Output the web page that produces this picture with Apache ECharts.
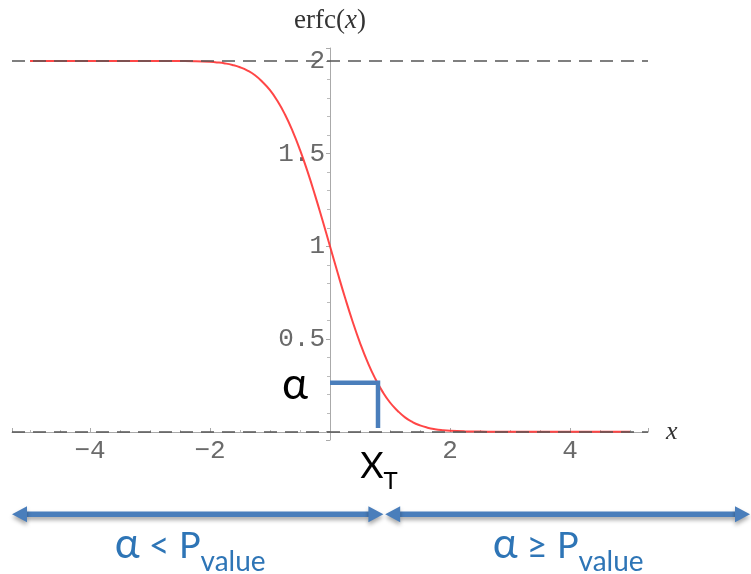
<!DOCTYPE html>
<html>
<head>
<meta charset="utf-8">
<script src="https://cdn.jsdelivr.net/npm/echarts@6/dist/echarts.min.js"></script>
<style>
  html, body { margin: 0; padding: 0; background: #fff; }
  #main { width: 751px; height: 574px; }
</style>
</head>
<body>
<div id="main"></div>
<script>
// erfc(x)
const xs = [-5, -4.75, -4.5, -4.25, -4, -3.75, -3.5, -3.25, -3, -2.75, -2.5, -2.25,
  -2, -1.875, -1.75, -1.625, -1.5, -1.375, -1.25, -1.125, -1, -0.875, -0.75, -0.625,
  -0.5, -0.375, -0.25, -0.125, 0, 0.125, 0.25, 0.375, 0.5, 0.625, 0.75, 0.875,
  1, 1.125, 1.25, 1.375, 1.5, 1.625, 1.75, 1.875, 2,
  2.25, 2.5, 2.75, 3, 3.25, 3.5, 3.75, 4, 4.25, 4.5, 4.75, 5]
const erfc = [2, 2, 2, 2, 2, 2, 2, 2, 2, 2, 1.9996, 1.9985,
  1.9953, 1.992, 1.9867, 1.9784, 1.9661, 1.9482, 1.9229, 1.8868, 1.8427, 1.784, 1.7112, 1.6231,
  1.5205, 1.4041, 1.2763, 1.1403, 1, 0.8597, 0.7237, 0.5959, 0.4795, 0.3769, 0.2888, 0.216,
  0.1573, 0.1132, 0.0771, 0.0518, 0.0339, 0.0216, 0.0133, 0.008, 0.0047,
  0.0015, 0.0004, 0, 0, 0, 0, 0, 0, 0, 0, 0, 0]
const asymptotes = [2, 0]

// alpha / X_T marker
const alphaBox = [[0, 0.264], [0.8, 0.264], [0.8, 0.02]]

// double arrows under the plot
const arrowFrom = [-5.3, 0.92]
const arrowTo = [0.89, 7.0]
const arrowY = -0.445

// annotation texts: segments of [text, font size, drop below baseline]
const noteSegs = [
  [['α', 44, 0]],
  [['X', 36, 0], ['T', 24, 11]],
  [['α', 42, 0], [' < P', 36, 0], ['value', 28, 13]],
  [['α', 42, 0], [' ≥ P', 36, 0], ['value', 28, 13]]
]
const noteX = [-0.583, 0.817, -2.33, 3.97]
const noteBase = [0.182, -0.245, -0.676, -0.676]
const noteColor = ['#000', '#000', '#2e75b6', '#2e75b6']

const blue = '#4a7ebb'
const tickFont = 'Liberation Mono'
const noteFont = 'Lato'

const measureCtx = document.createElement('canvas').getContext('2d')
function textWidth (text, size) {
  measureCtx.font = size + 'px ' + noteFont
  return measureCtx.measureText(text).width
}

const chartDom = document.getElementById('main')
const myChart = echarts.init(chartDom)

const option = {
  animation: false,
  grid: { left: 12, right: 103, top: 48, bottom: 134, containLabel: false, outerBoundsMode: 'none' },
  xAxis: {
    type: 'value',
    min: -5.3,
    max: 5.3,
    splitNumber: 5,
    position: 'bottom',
    offset: -8,
    name: 'x',
    nameGap: 18,
    nameTextStyle: { fontFamily: 'Liberation Serif', fontStyle: 'italic', fontSize: 26, color: '#333' },
    axisLine: { onZero: false, lineStyle: { color: '#aaa', width: 1 } },
    axisTick: { inside: true, length: 4, lineStyle: { color: '#aaa' } },
    minorTick: { show: true, splitNumber: 4, length: 2, lineStyle: { color: '#bbb' } },
    splitLine: { show: false },
    axisLabel: {
      showMinLabel: false,
      showMaxLabel: false,
      margin: 6,
      fontFamily: tickFont,
      fontSize: 26,
      color: '#6a6a6a',
      formatter: function (v) {
        if (v === 0) return ''
        return String(v).replace('-', '−')
      }
    }
  },
  yAxis: {
    type: 'value',
    min: -0.045,
    max: 2.07,
    splitNumber: 4,
    position: 'left',
    offset: -318,
    name: '{n|erfc(}{i|x}{n|)}',
    nameGap: 14,
    nameTextStyle: {
      rich: {
        n: { fontFamily: 'Liberation Serif', fontSize: 27, color: '#333' },
        i: { fontFamily: 'Liberation Serif', fontStyle: 'italic', fontSize: 27, color: '#333' }
      }
    },
    axisLine: { onZero: false, lineStyle: { color: '#aaa', width: 1 } },
    axisTick: { length: 4, lineStyle: { color: '#aaa' } },
    minorTick: { show: true, splitNumber: 5, length: 3, lineStyle: { color: '#bbb' } },
    splitLine: { show: false },
    axisLabel: {
      showMinLabel: false,
      showMaxLabel: false,
      margin: 5,
      fontFamily: tickFont,
      fontSize: 26,
      color: '#6a6a6a',
      formatter: function (v) {
        return v === 0 ? '' : String(v)
      }
    }
  },
  series: [
    {
      name: 'asymptotes',
      type: 'line',
      data: [],
      z: 1,
      markLine: {
        silent: true,
        symbol: 'none',
        label: { show: false },
        lineStyle: { type: [13, 8], color: '#555', width: 1.5 },
        data: asymptotes.map(function (v) { return { yAxis: v } })
      }
    },
    {
      name: 'erfc',
      type: 'line',
      z: 3,
      symbol: 'none',
      smooth: true,
      lineStyle: { color: 'rgba(255, 50, 50, 0.9)', width: 2 },
      data: xs.map(function (x, i) { return [x, erfc[i]] })
    },
    {
      name: 'alpha',
      type: 'line',
      z: 4,
      symbol: 'none',
      lineStyle: { color: blue, width: 4.5, join: 'miter' },
      data: alphaBox
    },
    {
      name: 'arrows',
      type: 'custom',
      clip: false,
      z: 5,
      encode: { x: [0, 1], y: 2 },
      data: arrowFrom.map(function (x, i) { return [x, arrowTo[i], arrowY] }),
      renderItem: function (params, api) {
        const a = api.coord([api.value(0), api.value(2)])
        const b = api.coord([api.value(1), api.value(2)])
        const y = a[1]
        const hl = 15
        const hh = 8
        const shadow = { shadowBlur: 4, shadowColor: 'rgba(0,0,0,0.35)', shadowOffsetY: 3 }
        return {
          type: 'group',
          children: [
            {
              type: 'line',
              shape: { x1: a[0] + hl - 1, y1: y, x2: b[0] - hl + 1, y2: y },
              style: Object.assign({ stroke: blue, lineWidth: 5.5 }, shadow)
            },
            {
              type: 'polygon',
              shape: { points: [[a[0], y], [a[0] + hl, y - hh], [a[0] + hl, y + hh]] },
              style: Object.assign({ fill: blue }, shadow)
            },
            {
              type: 'polygon',
              shape: { points: [[b[0], y], [b[0] - hl, y - hh], [b[0] - hl, y + hh]] },
              style: Object.assign({ fill: blue }, shadow)
            }
          ]
        }
      }
    },
    {
      name: 'notes',
      type: 'custom',
      clip: false,
      z: 6,
      data: noteX.map(function (x, i) { return [x, noteBase[i]] }),
      renderItem: function (params, api) {
        const i = params.dataIndex
        const p = api.coord([api.value(0), api.value(1)])
        const segs = noteSegs[i]
        const widths = segs.map(function (s) { return textWidth(s[0], s[1]) })
        const total = widths.reduce(function (a, b) { return a + b }, 0)
        let cx = p[0] - total / 2
        const children = segs.map(function (s, k) {
          const el = {
            type: 'text',
            x: cx,
            y: p[1] + s[2] - 0.3 * s[1],
            style: {
              text: s[0],
              fill: noteColor[i],
              fontFamily: noteFont,
              fontSize: s[1],
              align: 'left',
              verticalAlign: 'middle'
            }
          }
          cx += widths[k]
          return el
        })
        return { type: 'group', children: children }
      }
    }
  ]
}
myChart.setOption(option)
window.addEventListener('resize', () => {
  myChart.resize()
})
</script>
</body>
</html>
